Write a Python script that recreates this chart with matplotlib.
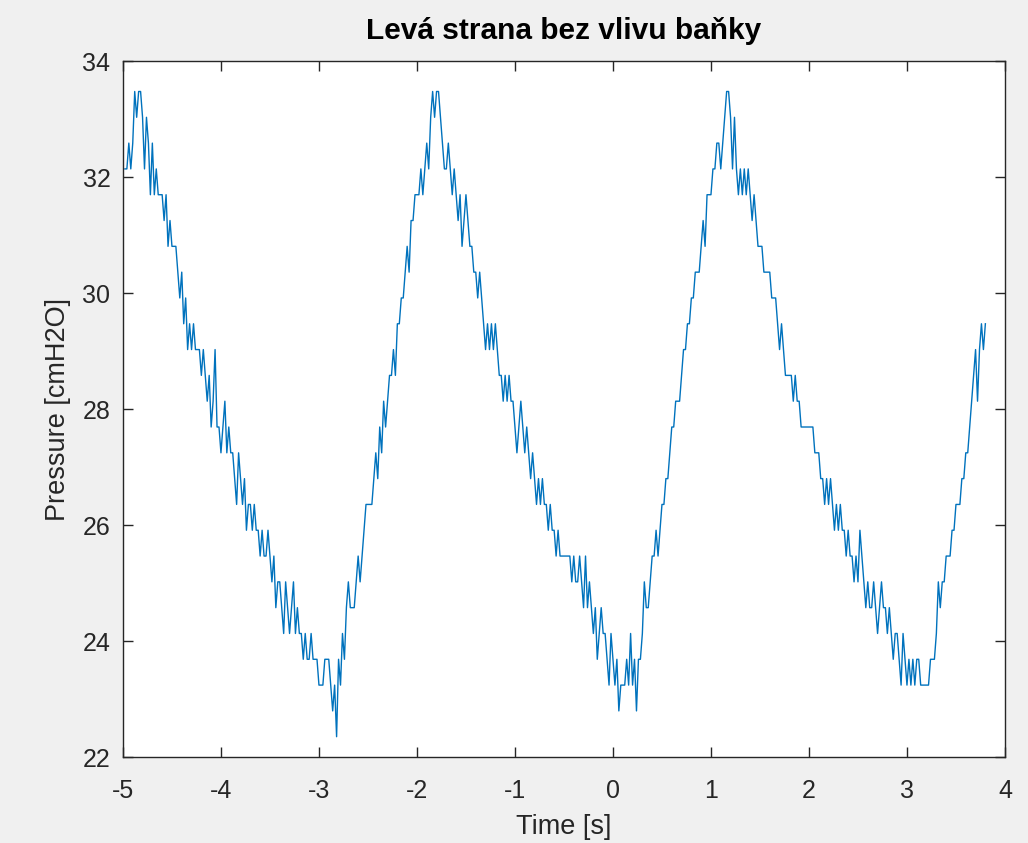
import matplotlib
matplotlib.use('Agg')
import matplotlib.pyplot as plt
import numpy as np

plt.rcParams['font.family'] = ['Liberation Sans', 'DejaVu Sans']
plt.rcParams['axes.unicode_minus'] = False

# sampling (start time, sample step) and pressure quantisation
t_start = -4.98
dt = 0.02
p_min = 22.35      # lowest level seen (~22.35 cmH2O)
p_step = 0.445     # spacing between discrete levels

# level indices (0 = p_min), segment by segment
fall_1 = [22, 22, 23, 22, 23, 25, 24, 25, 25, 24, 22, 24, 23, 21, 23, 21, 22,
          21, 21, 21, 20, 21, 19, 20, 19, 19, 19, 18, 17, 18, 16, 17, 15, 16,
          15, 16, 15, 15, 15, 14, 15, 14, 13, 14, 12, 13, 15, 12, 12, 11, 12,
          13, 11, 12, 11, 11, 10, 9, 11, 10, 9, 10, 8, 9, 9, 8, 9, 8, 8, 7, 8,
          7, 7, 8, 7, 6, 7, 5, 6, 6, 5, 4, 6, 5, 4, 5, 6, 4, 5, 4, 4, 3, 4, 3,
          3, 4, 3, 3, 3, 2, 2, 2, 3, 3, 3, 2, 1, 2]
cycle_2 = [0, 3, 2, 4, 3, 5, 6, 5, 5, 5, 6, 7, 6, 7, 8, 9, 9, 9, 9, 10, 11, 10,
           12, 11, 13, 12, 13, 14, 14, 15, 14, 16, 16, 17, 17, 18, 19, 18, 20,
           20, 21, 21, 21, 22, 21, 22, 23, 22, 24, 25, 24, 25, 25, 24, 23, 22,
           22, 23, 22, 21, 22, 21, 20, 21, 19, 20, 21, 20, 19, 19, 18, 18, 17,
           18, 17, 16, 15, 16, 15, 16, 15, 16, 15, 14, 14, 13, 14, 13, 14, 13,
           13, 12, 11, 12, 13, 12, 11, 12, 11, 10, 11, 10, 9, 10, 9, 10, 9, 9,
           8, 9, 8, 8, 7, 8, 7, 7, 7, 7, 7, 7, 6, 7, 6, 6, 7, 6, 5, 7, 5, 6, 5,
           4, 5, 3, 4, 5, 4, 4, 3, 2, 4, 3, 2, 3, 1, 2, 2, 2, 3, 2, 4, 2, 3, 1,
           3, 3]
cycle_3 = [4, 6, 5, 5, 6, 7, 7, 8, 7, 8, 9, 9, 10, 10, 11, 12, 12, 13, 13, 13,
           14, 15, 15, 16, 16, 17, 17, 18, 18, 18, 19, 20, 19, 21, 21, 21, 22,
           22, 23, 23, 22, 23, 24, 25, 25, 24, 22, 24, 22, 21, 22, 21, 22, 21,
           22, 21, 20, 21, 20, 19, 19, 19, 18, 18, 18, 18, 17, 17, 17, 16, 15,
           16, 15, 14, 14, 14, 14, 13, 14, 13, 13, 12, 12, 12, 12, 12, 12, 12,
           11, 11, 11, 10, 10, 9, 10, 9, 10, 9, 8, 9, 8, 9, 8, 8, 7, 8, 7, 7,
           6, 7, 6, 8, 7, 6, 5, 6, 5, 5, 6, 5, 4, 5, 6, 5, 5, 4, 5, 4, 3, 4, 4,
           3, 2, 4, 3, 2, 3, 2, 3, 2, 3, 3, 2, 2, 2, 2, 2, 3, 3, 3, 4, 6, 5, 6,
           6, 7, 7, 7, 8, 8, 9, 9, 9, 10, 10, 11, 11, 12, 13, 14, 15, 13, 15,
           16, 15, 16]

levels = np.array(fall_1 + cycle_2 + cycle_3)
pressure = p_min + p_step * levels
time = t_start + dt * np.arange(len(levels))

fig = plt.figure(figsize=(10.28, 8.43), dpi=100, facecolor='#f0f0f0')
ax = fig.add_axes([0.1196, 0.102, 0.858, 0.8256])
ax.plot(time, pressure, color='#0072BD', linewidth=1.0)

ax.set_xlim(-5, 4)
ax.set_ylim(22, 34)
ax.set_xticks(np.arange(-5, 5, 1))
ax.set_yticks(np.arange(22, 35, 2))

dark = '#262626'
for s in ax.spines.values():
    s.set_color(dark)
    s.set_linewidth(1.0)
ax.tick_params(direction='in', length=7, width=1.0, colors=dark,
               labelsize=18, top=True, right=True)
ax.tick_params(axis='x', pad=16)
ax.tick_params(axis='y', pad=9)

ax.set_title('Levá strana bez vlivu baňky', fontsize=21.5, fontweight='bold',
             color='black', pad=16)
ax.set_xlabel('Time [s]', fontsize=19.5, color=dark, labelpad=8)
ax.set_ylabel('Pressure [cmH2O]', fontsize=19.5, color=dark, labelpad=8)

fig.savefig('out.png', dpi=100, facecolor=fig.get_facecolor())
